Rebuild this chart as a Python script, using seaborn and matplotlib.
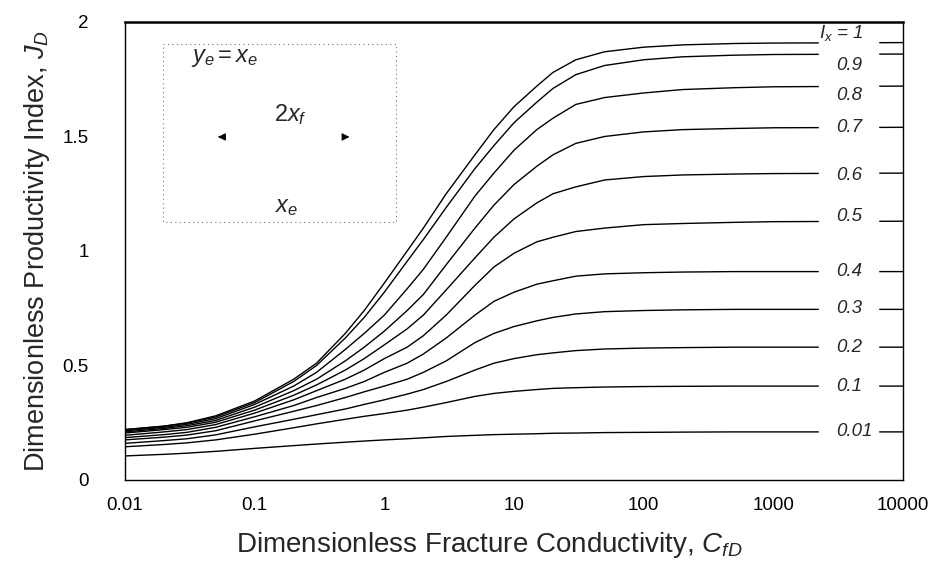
import numpy as np
import pandas as pd
import matplotlib
matplotlib.use("Agg")
import matplotlib.pyplot as plt
import seaborn as sns

# ---- data ----
cfd = [0.01, 0.02, 0.03, 0.05, 0.1, 0.2, 0.3, 0.5, 0.7, 1, 1.5, 2, 3, 5, 7,
       10, 15, 20, 30, 50, 100, 200, 500, 1000, 10000]

ix_values = ["1", "0.9", "0.8", "0.7", "0.6", "0.5", "0.4", "0.3", "0.2", "0.1", "0.01"]

jd_1   = [0.22, 0.235, 0.25, 0.28, 0.345, 0.44, 0.51, 0.64, 0.74, 0.86, 1.0, 1.10, 1.25, 1.42, 1.53,
          1.63, 1.72, 1.78, 1.835, 1.87, 1.89, 1.90, 1.906, 1.908, 1.91]
jd_09  = [0.22, 0.235, 0.248, 0.275, 0.338, 0.43, 0.50, 0.62, 0.71, 0.82, 0.955, 1.05, 1.19, 1.36, 1.46,
          1.56, 1.65, 1.71, 1.77, 1.81, 1.835, 1.848, 1.855, 1.858, 1.86]
jd_08  = [0.215, 0.23, 0.243, 0.268, 0.33, 0.41, 0.47, 0.57, 0.64, 0.72, 0.835, 0.92, 1.06, 1.24, 1.34,
          1.44, 1.53, 1.58, 1.64, 1.67, 1.69, 1.705, 1.713, 1.717, 1.72]
jd_07  = [0.21, 0.225, 0.237, 0.26, 0.318, 0.39, 0.44, 0.52, 0.58, 0.65, 0.74, 0.81, 0.94, 1.10, 1.20,
          1.29, 1.37, 1.42, 1.47, 1.50, 1.52, 1.53, 1.535, 1.538, 1.54]
jd_06  = [0.205, 0.22, 0.23, 0.252, 0.305, 0.37, 0.415, 0.48, 0.53, 0.59, 0.66, 0.72, 0.83, 0.97, 1.06,
          1.14, 1.21, 1.25, 1.28, 1.31, 1.325, 1.332, 1.336, 1.338, 1.34]
jd_05  = [0.195, 0.21, 0.22, 0.242, 0.292, 0.35, 0.39, 0.44, 0.48, 0.53, 0.58, 0.63, 0.72, 0.85, 0.93,
          0.99, 1.04, 1.06, 1.085, 1.10, 1.115, 1.12, 1.125, 1.128, 1.13]
jd_04  = [0.185, 0.198, 0.208, 0.23, 0.276, 0.325, 0.36, 0.40, 0.43, 0.47, 0.51, 0.55, 0.62, 0.72, 0.78,
          0.82, 0.855, 0.87, 0.89, 0.90, 0.905, 0.908, 0.91, 0.91, 0.91]
jd_03  = [0.175, 0.187, 0.196, 0.215, 0.258, 0.30, 0.325, 0.36, 0.385, 0.41, 0.44, 0.47, 0.52, 0.60, 0.64,
          0.67, 0.695, 0.71, 0.725, 0.735, 0.74, 0.743, 0.745, 0.745, 0.745]
jd_02  = [0.16, 0.172, 0.18, 0.197, 0.232, 0.265, 0.285, 0.31, 0.33, 0.35, 0.375, 0.395, 0.43, 0.48, 0.51,
          0.53, 0.547, 0.555, 0.565, 0.572, 0.576, 0.578, 0.58, 0.58, 0.58]
jd_01  = [0.145, 0.155, 0.162, 0.175, 0.20, 0.228, 0.245, 0.265, 0.278, 0.29, 0.305, 0.318, 0.338, 0.365, 0.378,
          0.387, 0.395, 0.40, 0.403, 0.406, 0.408, 0.409, 0.41, 0.41, 0.41]
jd_001 = [0.105, 0.112, 0.117, 0.125, 0.138, 0.15, 0.157, 0.165, 0.17, 0.175, 0.18, 0.184, 0.19, 0.195, 0.198,
          0.20, 0.202, 0.204, 0.205, 0.207, 0.208, 0.209, 0.21, 0.21, 0.21]

series = [jd_1, jd_09, jd_08, jd_07, jd_06, jd_05, jd_04, jd_03, jd_02, jd_01, jd_001]

curve_labels = [r"$I_x$ = 1", "0.9", "0.8", "0.7", "0.6", "0.5", "0.4", "0.3", "0.2", "0.1", "0.01"]
label_j = [1.95, 1.81, 1.68, 1.54, 1.33, 1.15, 0.91, 0.75, 0.58, 0.41, 0.21]

x_ticks = [0.01, 0.1, 1, 10, 100, 1000, 10000]
x_ticklabels = ["0.01", "0.1", "1", "10", "100", "1000", "10000"]
y_ticks = [0, 0.5, 1, 1.5, 2]
y_ticklabels = ["0", "0.5", "1", "1.5", "2"]

# ---- build long-form table ----
rows = []
for ix, vals in zip(ix_values, series):
    for c, j in zip(cfd, vals):
        rows.append({"CfD": c, "JD": j, "Ix": ix})
df = pd.DataFrame(rows)

sns.set_style("white")
plt.rcParams["font.family"] = ["Liberation Sans", "DejaVu Sans"]
plt.rcParams["mathtext.fontset"] = "custom"
plt.rcParams["mathtext.rm"] = "Liberation Sans"
plt.rcParams["mathtext.it"] = "Liberation Sans:italic"

fig = plt.figure(figsize=(9.37, 5.74), dpi=100)
ax = fig.add_axes([0.1334, 0.1638, 0.8303, 0.7979])

sns.lineplot(data=df, x="CfD", y="JD", hue="Ix", hue_order=ix_values,
             palette=["black"] * len(ix_values), estimator=None, sort=False,
             linewidth=1.0, legend=False, ax=ax)

ax.set_xscale("log")
ax.set_xlim(0.01, 10000)
ax.set_ylim(0, 2)
ax.set_xticks(x_ticks)
ax.set_xticklabels(x_ticklabels, fontsize=13.5)
ax.set_yticks(y_ticks)
ax.set_yticklabels(y_ticklabels, fontsize=13.5)
ax.minorticks_off()
ax.tick_params(axis="both", direction="out", length=4, width=0.8, colors="black")
ax.tick_params(axis="y", pad=22)
ax.tick_params(axis="x", pad=8)
for s in ax.spines.values():
    s.set_color("black")
    s.set_linewidth(1.0)
    s.set_zorder(6)
ax.spines["top"].set_linewidth(1.8)

ax.set_xlabel(r"Dimensionless Fracture Conductivity, $C_{fD}$", fontsize=20, labelpad=12)
ax.xaxis.label.set_x(0.468)
ax.set_ylabel(r"Dimensionless Productivity Index, $J_D$", fontsize=19.5, labelpad=8)

# white column behind the curve labels
ax.axvspan(2250, 6400, color="white", zorder=3)
for txt, yv in zip(curve_labels, label_j):
    xpos = 2250 if txt.startswith("$") else 3050
    ax.text(xpos, yv, txt, fontsize=13.5, style="italic", ha="left", va="center", zorder=4)

# inset sketch
ax.plot([0.0196, 1.22, 1.22, 0.0196, 0.0196], [1.904, 1.904, 1.127, 1.127, 1.904],
        color="0.45", linestyle=(0, (1, 3)), linewidth=0.8, zorder=2)
ax.text(0.059, 1.843, r"$y_e = x_e$", fontsize=17, ha="center", va="center")
ax.text(0.188, 1.594, r"$2x_f$", fontsize=17, ha="center", va="center")
ax.text(0.178, 1.19, r"$x_e$", fontsize=17, ha="center", va="center")
ax.annotate("", xy=(0.0496, 1.498), xytext=(0.057, 1.498),
            arrowprops=dict(arrowstyle="-|>", color="black", lw=0.8, mutation_scale=11))
ax.annotate("", xy=(0.566, 1.498), xytext=(0.49, 1.498),
            arrowprops=dict(arrowstyle="-|>", color="black", lw=0.8, mutation_scale=11))

fig.savefig("out.png", dpi=100, facecolor="white")
